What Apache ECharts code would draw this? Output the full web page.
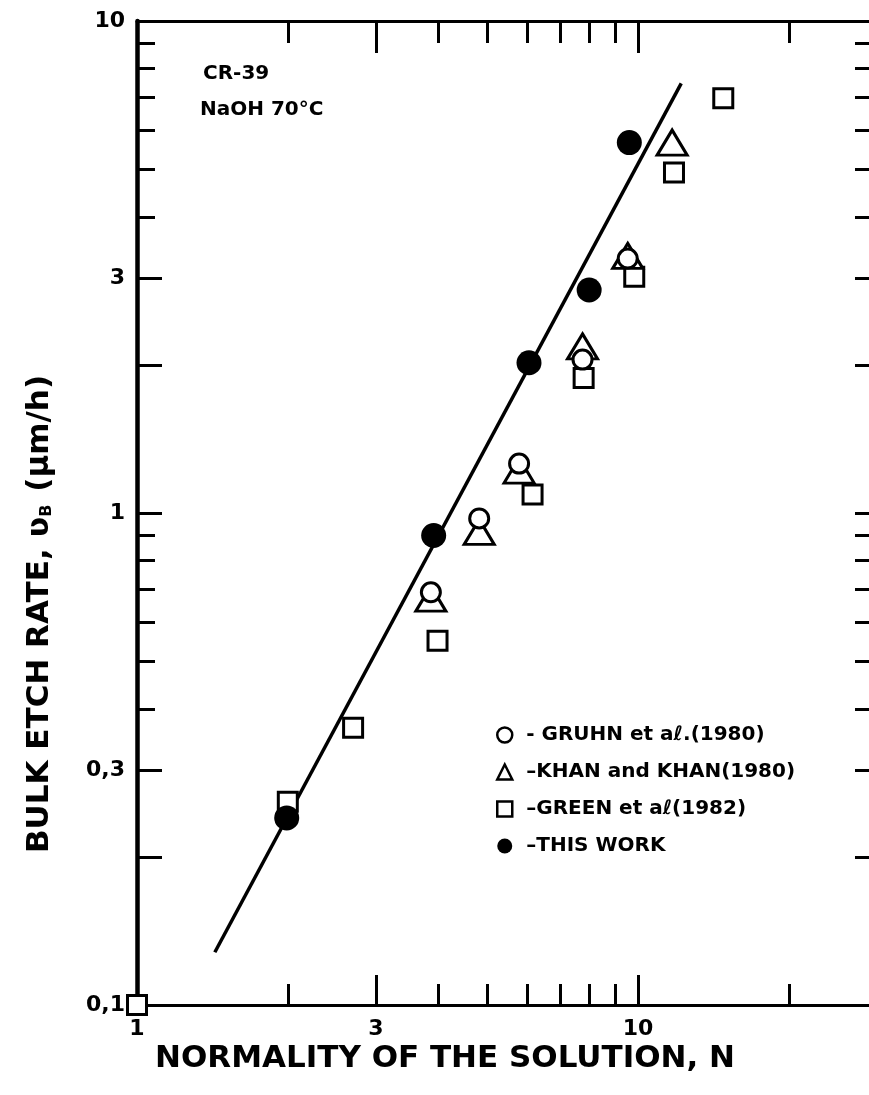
<!DOCTYPE html>
<html><head><meta charset="utf-8">
<script src="https://cdn.jsdelivr.net/npm/echarts@6/dist/echarts.min.js"></script>
<style>html,body{margin:0;padding:0;background:#fff}#c{width:869px;height:1095px}</style>
</head><body><div id="c"></div>
<script>
// ---- data ----
const gruhnN = [3.86, 4.82, 5.79, 7.75, 9.54];
const gruhnV = [0.69, 0.975, 1.26, 2.05, 3.29];
const khanN  = [3.86, 4.82, 5.79, 7.75, 9.54, 11.7];
const khanV  = [0.67, 0.915, 1.22, 2.18, 3.33, 5.66];
const greenN = [1.0, 2.0, 2.7, 3.98, 6.16, 7.79, 9.83, 11.8, 14.8];
const greenV = [0.1, 0.259, 0.366, 0.55, 1.09, 1.88, 3.02, 4.92, 6.97];
const thisN  = [1.99, 3.91, 6.06, 7.99, 9.61];
const thisV  = [0.24, 0.9, 2.02, 2.84, 5.66];
const fitN   = [1.43, 12.2];
const fitV   = [0.128, 7.47];
const seriesNames = ['GRUHN et aℓ.(1980)', 'KHAN and KHAN(1980)', 'GREEN et aℓ(1982)', 'THIS WORK'];
const xLabelTicks = [1, 3, 10];
const xShortTicks = [2, 4, 5, 6, 7, 8, 9, 20];
const xLongTicks  = [3, 10];
const yLabelTicks = [0.1, 0.3, 1, 3, 10];
const yShortTicks = [0.4, 0.5, 0.6, 0.7, 0.8, 0.9, 4, 5, 6, 7, 8, 9];
const yLongTicks  = [0.2, 0.3, 1, 2, 3];
const yRightTicks = [0.2, 0.3, 0.4, 0.5, 0.6, 0.7, 0.8, 0.9, 1, 2, 3, 4, 5, 6, 7, 8, 9];
const xMin = 1, xMax = 30, yMin = 0.1, yMax = 10;

// ---- chart ----
const FONT = 'DejaVu Sans';
const L = v => Math.log10(v);
const pair = (a, b) => a.map((v, i) => [v, b[i]]);
const lw = 3;
const tickStyle = {color: '#000', width: lw};
function overlayX(pos, ticks, len, labels, showLine) {
  return {
    type: 'value', position: pos, min: L(xMin), max: L(xMax),
    axisLine: {show: !!showLine, onZero: false, lineStyle: {color: '#000', width: lw}},
    axisTick: {show: true, inside: true, length: len, customValues: ticks.map(L), lineStyle: tickStyle},
    axisLabel: labels ? {show: true, customValues: labels.map(L), margin: 13,
      formatter: v => String(Math.round(Math.pow(10, v))),
      fontFamily: FONT, fontWeight: 'bold', fontSize: 22, color: '#000'} : {show: false},
    splitLine: {show: false}
  };
}
function fmtY(v) {
  const r = Math.round(Math.pow(10, v) * 10) / 10;
  return String(r).replace('.', ',');
}
function overlayY(pos, ticks, len, labels, showLine) {
  return {
    type: 'value', position: pos, min: L(yMin), max: L(yMax),
    axisLine: {show: !!showLine, onZero: false, lineStyle: {color: '#000', width: lw}},
    axisTick: {show: true, inside: true, length: len, customValues: ticks.map(L), lineStyle: tickStyle},
    axisLabel: labels ? {show: true, customValues: labels.map(L), margin: 12, formatter: fmtY,
      fontFamily: FONT, fontWeight: 'bold', fontSize: 22, color: '#000'} : {show: false},
    splitLine: {show: false}
  };
}
const openStyle = {color: '#fff', borderColor: '#000', borderWidth: 3, opacity: 1};
const chart = echarts.init(document.getElementById('c'), null, {renderer: 'canvas'});
chart.setOption({
  animation: false,
  backgroundColor: '#fff',
  grid: {left: 137, right: -8, top: 21, bottom: 90, containLabel: false, outerBoundsMode: 'none'},
  xAxis: [
    {type: 'log', logBase: 10, min: xMin, max: xMax, position: 'bottom',
     axisLine: {show: true, onZero: false, lineStyle: {color: '#000', width: lw}},
     axisTick: {show: false}, axisLabel: {show: false}, splitLine: {show: false},
     name: 'NORMALITY OF THE SOLUTION, N', nameLocation: 'middle', nameGap: 38,
     nameTextStyle: {fontFamily: FONT, fontWeight: 'bold', fontSize: 31, color: '#000', padding: [0, 124, 0, 0]}},
    overlayX('bottom', xShortTicks, 21, xLabelTicks, false),
    overlayX('bottom', xLongTicks, 30, null, false),
    overlayX('top', xShortTicks, 22, null, true),
    overlayX('top', xLongTicks, 32, null, false)
  ],
  yAxis: [
    {type: 'log', logBase: 10, min: yMin, max: yMax, position: 'left',
     axisLine: {show: true, onZero: false, lineStyle: {color: '#000', width: 4.5}},
     axisTick: {show: false}, axisLabel: {show: false}, splitLine: {show: false},
     name: '{a|BULK ETCH RATE, ʋ}{b|B}{a| (μm/h)}', nameLocation: 'middle', nameGap: 82,
     nameTextStyle: {padding: [0, 202, 0, 0],
       rich: {a: {fontFamily: FONT, fontWeight: 'bold', fontSize: 31, color: '#000'},
              b: {fontFamily: FONT, fontWeight: 'bold', fontSize: 16, color: '#000', verticalAlign: 'bottom', padding: [14, 2, 0, 0]}}}},
    overlayY('left', yShortTicks, 18, yLabelTicks, false),
    overlayY('left', yLongTicks, 25, null, false),
    overlayY('right', yRightTicks, 22, null, true)
  ],
  legend: {
    orient: 'vertical', left: 491, top: 720, itemGap: 17, itemWidth: 15, itemHeight: 15,
    data: seriesNames,
    formatter: n => (n === seriesNames[0] ? '- ' : '–') + n,
    itemStyle: {borderWidth: 2.5, opacity: 1},
    textStyle: {fontFamily: FONT, fontWeight: 'bold', fontSize: 20, color: '#000', padding: [0, 0, 0, 9]}
  },
  graphic: [
    {type: 'text', left: 203, top: 64, style: {text: 'CR-39', fontFamily: FONT, fontWeight: 'bold', fontSize: 20, fill: '#000'}},
    {type: 'text', left: 200, top: 100, style: {text: 'NaOH 70°C', fontFamily: FONT, fontWeight: 'bold', fontSize: 20, fill: '#000'}}
  ],
  series: [
    {name: 'fit', type: 'line', xAxisIndex: 0, yAxisIndex: 0, data: pair(fitN, fitV),
     showSymbol: false, symbol: 'none', lineStyle: {color: '#000', width: 3.5}, z: 1},
    {name: seriesNames[2], type: 'scatter', xAxisIndex: 0, yAxisIndex: 0, data: pair(greenN, greenV),
     symbol: 'rect', symbolSize: 19, itemStyle: openStyle, z: 2},
    {name: seriesNames[1], type: 'scatter', xAxisIndex: 0, yAxisIndex: 0, data: pair(khanN, khanV),
     symbol: 'triangle', symbolSize: [30, 25], itemStyle: openStyle, z: 3},
    {name: seriesNames[0], type: 'scatter', xAxisIndex: 0, yAxisIndex: 0, data: pair(gruhnN, gruhnV),
     symbol: 'circle', symbolSize: 19, itemStyle: openStyle, z: 4},
    {name: seriesNames[3], type: 'scatter', xAxisIndex: 0, yAxisIndex: 0, data: pair(thisN, thisV),
     symbol: 'circle', symbolSize: 25, itemStyle: {color: '#000', opacity: 1}, z: 5}
  ]
});
</script></body></html>
